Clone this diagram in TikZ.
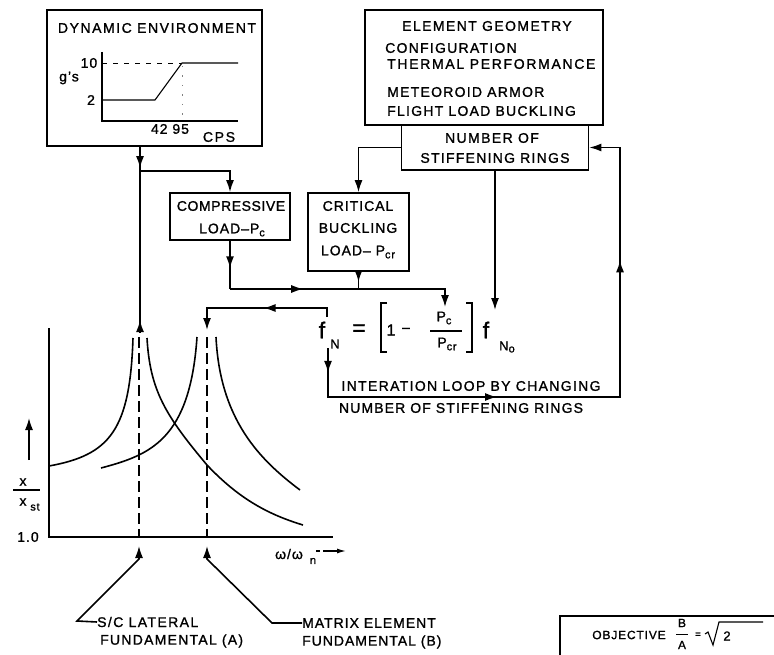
\documentclass[tikz,border=0pt]{standalone}
\usepackage{fontspec}
\setmainfont{Liberation Sans}[LetterSpace=7,FakeBold=1.2]
\usetikzlibrary{arrows.meta,decorations.markings}
\newcommand\lblf{\fontsize{14pt}{16pt}\selectfont}
\newcommand\smf{\fontsize{11pt}{11pt}\selectfont}
\newcommand\sbs[1]{\raisebox{-3pt}{\smf #1}}
\newcommand\lsp[1]{\addfontfeatures{LetterSpace=#1}}
\tikzset{
  hd/.tip={Latex[length=12pt,width=8pt]},
  box/.style={draw, line width=1.6pt, inner sep=0pt},
  txt/.style={inner sep=0pt, font=\lblf},
  marr/.style={postaction={decorate}, decoration={markings, mark=at position #1 with {\arrow{hd}}}},
  loopmarks/.style={postaction={decorate}, decoration={markings,
     mark=at position 0.040 with {\arrow{hd}},
     mark=at position 0.351 with {\arrow{hd}},
     mark=at position 0.769 with {\arrow{hd}}}},
  conn/.style={line width=1.6pt},
  curve/.style={line width=1.6pt},
  dsh/.style={line width=1.4pt, dash pattern=on 11pt off 5pt},
  big/.style={inner sep=0pt, font=\fontsize{23pt}{23pt}\selectfont},
}
\begin{document}
\begin{tikzpicture}[x=1pt,y=-1pt]
\useasboundingbox (0,0) rectangle (774,655);
% ---------- boxes ----------
\node[box, minimum width=215pt, minimum height=136pt] (de) at (154.5,78) {};
\node[box, minimum width=238pt, minimum height=115pt] (eg) at (484,67.5) {};
\node[box, minimum width=187pt, minimum height=45pt] (nsr) at (495,147.5) {};
\node[box, minimum width=120pt, minimum height=47pt] (cl) at (230,216.5) {};
\node[box, minimum width=101pt, minimum height=78pt] (cb) at (358.5,232) {};
% ---------- dynamic environment ----------
\node[txt] (detitle) at (157,28) {\lsp{11}DYNAMIC ENVIRONMENT};
\draw[line width=1.1pt] (102,52) -- (102,121) -- (238,121);
\draw[line width=1.1pt] (102,100) -- (155,100) -- (182,63) -- (238,63);
\draw[line width=0.9pt, dash pattern=on 5pt off 6pt] (102,63) -- (182,63);
\draw[line width=0.6pt, gray, dash pattern=on 1.5pt off 8pt] (182,66) -- (182,121);
\node[txt] (g) at (69,78) {g's};
\node[txt] (g10) at (89,63) {10};
\node[txt] (g2) at (91,100) {2};
\node[txt] (cps1) at (170,129) {42 95};
\node[txt] (cps2) at (219,137) {\lsp{12}CPS};
% ---------- element geometry ----------
\node[txt] (egt) at (487,26) {\lsp{10}ELEMENT GEOMETRY};
\node[txt, anchor=west] (eg1) at (385,48) {\lsp{9}CONFIGURATION};
\node[txt, anchor=west] (eg2) at (387,64) {\lsp{12}THERMAL PERFORMANCE};
\node[txt, anchor=west] (eg3) at (387,92) {\lsp{9}METEOROID ARMOR};
\node[txt, anchor=west] (eg4) at (387,111) {\lsp{9}FLIGHT LOAD BUCKLING};
% ---------- number of stiffening rings ----------
\node[txt] (n1) at (492,138) {\lsp{10}NUMBER OF};
\node[txt] (n2) at (495,158) {\lsp{9}STIFFENING RINGS};
% ---------- compressive / critical ----------
\node[txt] (c1) at (231,206) {\lsp{4}COMPRESSIVE};
\node[txt] (c2) at (232,230) {LOAD–P\sbs{c}};
\node[txt] (k1) at (358,206) {CRITICAL};
\node[txt] (k2) at (358,228) {BUCKLING};
\node[txt] (k3) at (358,252) {LOAD– P\sbs{cr}};
% ---------- formula ----------
\node[big] (f1) at (322,330) {f};
\node[inner sep=0pt, font=\fontsize{13pt}{13pt}\selectfont] (f1n) at (335,344) {N};
\node[big] (eq) at (359,330) {=};
\draw[line width=1.4pt] (387,303) -- (381,303) -- (381,352) -- (387,352);
\draw[line width=1.4pt] (466,303) -- (472,303) -- (472,352) -- (466,352);
\node[inner sep=0pt, font=\fontsize{16pt}{16pt}\selectfont] (one) at (391,330) {1};
\node[txt] (minus) at (406,330) {–};
\node[txt] (pc) at (444,318) {P\sbs{c}};
\draw[line width=1.2pt] (430,331) -- (462,331);
\node[txt] (pcr) at (447,344) {P\sbs{cr}};
\node[big] (f2) at (486,330) {f};
\node[inner sep=0pt, font=\fontsize{13pt}{13pt}\selectfont] (f2n) at (507,347) {N\raisebox{-2pt}{\smf o}};
\node[txt] (loop1) at (471,386) {\lsp{9.5}INTERATION LOOP BY CHANGING};
\node[txt] (loop2) at (461,408) {\lsp{8}NUMBER OF STIFFENING RINGS};
% ---------- coordinates ----------
\coordinate (j1) at (140,171);
\coordinate (pA) at (140,333);
\coordinate (j2) at (230,289);
\coordinate (j3) at (358.5,289);
\coordinate (pf) at (445,307);
\coordinate (nf) at (495,310);
\coordinate (fNu) at (327,317);
\coordinate (fNt) at (327,308);
\coordinate (pB) at (207,330);
\coordinate (fNd) at (328,348);
\coordinate (lb) at (328,397);
\coordinate (rb) at (620,397);
% ---------- connectors ----------
\draw[conn, marr=0.88] (j1 |- de.south) -- (j1);
\draw[conn, -hd] (j1) -| (cl.north);
\draw[conn, marr=0.08] (pA) -- (j1);
\draw[conn, -hd] (nsr.west) -| (cb.north);
\draw[conn, -hd] (nsr.south) -- (nf);
\draw[conn, marr=0.57] (cl.south) -- (j2);
\draw[conn, marr=0.57] (j2) -- (j3);
\draw[conn, marr=0.6] (cb.south) -- (j3);
\draw[conn, -hd] (j3) -| (pf);
\draw[conn, -hd, marr=0.48] (fNu) -- (fNt) -| (pB);
\draw[conn, -hd, loopmarks] (fNd) -- (lb) -- (rb) |- (nsr.east);
% ---------- response plot ----------
\draw[line width=1.6pt] (49,328) -- (49,537) -- (333,537);
\draw[conn, -hd] (29,460) -- (29,418);
\node[txt] (xn) at (23,482) {x};
\draw[line width=1.2pt] (13,490) -- (40,490);
\node[txt] (xd) at (23,502) {x};
\node[inner sep=0pt, font=\smf] (xst) at (35,507) {st};
\node[txt] (one0) at (28,537) {1.0};
\node[txt] (om) at (289,554) {ω/ω};
\node[inner sep=0pt, font=\smf] (omn) at (313,561) {n};
\draw[line width=1.2pt, -{Latex[length=9pt,width=5pt]}] (316,551) -- (320,551) (323,551) -- (346,551);
\draw[dsh] (139,337) -- (139,537);
\draw[dsh] (207,337) -- (207,537);
\draw[curve] (49,466) .. controls (110,455) and (130,430) .. (133,338);
\draw[curve] (147,338) .. controls (150,390) and (165,415) .. (207,465) .. controls (240,500) and (270,515) .. (303,525);
\draw[curve] (101,468) .. controls (150,455) and (190,440) .. (197,337);
\draw[curve] (216,337) .. controls (220,420) and (260,460) .. (300,490);
% ---------- leaders ----------
\node[txt, anchor=west] (sc1) at (97,622) {\lsp{10}S/C LATERAL};
\node[txt, anchor=west] (sc2) at (100,641) {\lsp{9}FUNDAMENTAL (A)};
\node[txt, anchor=west] (mx1) at (302,623) {\lsp{7}MATRIX ELEMENT};
\node[txt, anchor=west] (mx2) at (302,642) {\lsp{7}FUNDAMENTAL (B)};
\draw[conn, hd-] (139,546) -- (139,559) -- (77,621) -- (sc1.west);
\draw[conn, hd-] (207,546) -- (207,559) -- (272,623) -- (mx1.west);
% ---------- objective ----------
\draw[line width=1.4pt] (560,655) -- (560,616) -- (774,616);
\node[inner sep=0pt, font=\fontsize{12pt}{12pt}\selectfont] (obj) at (629,635) {OBJECTIVE};
\node[inner sep=0pt, font=\fontsize{12pt}{12pt}\selectfont] (ob) at (682,623) {B};
\draw[line width=1pt] (676,634) -- (688,634);
\node[inner sep=0pt, font=\fontsize{12pt}{12pt}\selectfont] (oa) at (682,645) {A};
\node[inner sep=0pt, font=\fontsize{10pt}{10pt}\selectfont] (oeq) at (698,635) {=};
\draw[line width=1.1pt] (705,634) -- (708,632) -- (713,645) -- (719,622) -- (763,622);
\node[inner sep=0pt, font=\fontsize{13pt}{13pt}\selectfont] (o2) at (727,636) {2};
\end{tikzpicture}
\end{document}
